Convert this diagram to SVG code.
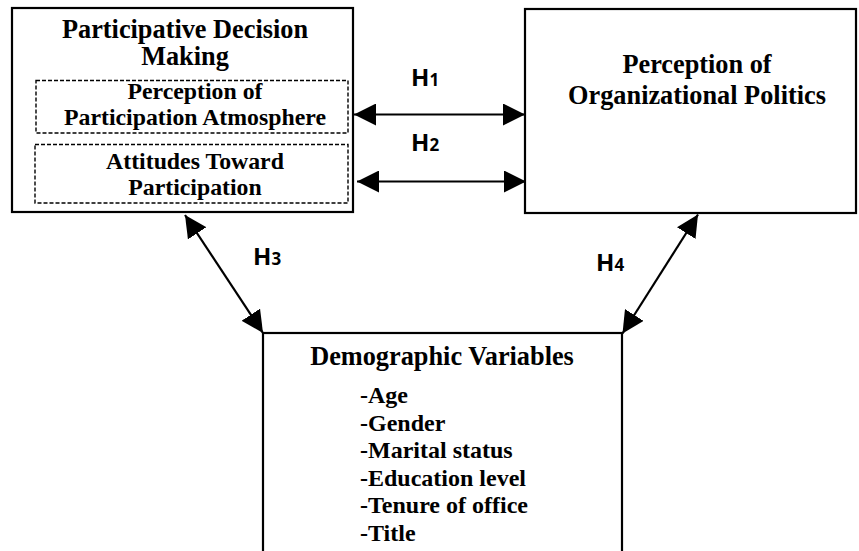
<svg xmlns="http://www.w3.org/2000/svg" width="859" height="551" viewBox="0 0 859 551">
<style>
.box{fill:#fff;stroke:#000;stroke-width:2.2}
.dash{fill:none;stroke:#000;stroke-width:1.4;stroke-dasharray:4 2}
.t{font-family:"Liberation Serif","Times New Roman",serif;font-weight:bold;fill:#000}
.tt{font-size:26.3px;text-anchor:middle}
.ts{font-size:23.8px;text-anchor:middle}
.tl{font-size:24px}
.h{font-family:"Open Sans","Liberation Sans",Arial,sans-serif;font-weight:bold;font-size:24px;fill:#000}
.h tspan{font-size:17px}
.con{stroke:#000;stroke-width:2.2;fill:none;marker-start:url(#ah);marker-end:url(#ah)}
</style>
<defs>
<marker id="ah" markerUnits="userSpaceOnUse" markerWidth="22" markerHeight="22" refX="20" refY="10" orient="auto-start-reverse" viewBox="0 0 20 20">
<path d="M0,0 L20,10 L0,20 z" fill="#000"/>
</marker>
</defs>
<rect width="859" height="551" fill="#fff"/>
<g id="pdm">
<rect class="box" x="12" y="8" width="341" height="204"/>
<text class="t tt" x="185" y="38">Participative Decision</text>
<text class="t tt" x="185" y="65">Making</text>
<g id="ppa">
<rect class="dash" x="36" y="80.5" width="312" height="52.5"/>
<text class="t ts" x="195" y="99">Perception of</text>
<text class="t ts" x="195" y="125">Participation Atmosphere</text>
</g>
<g id="atp">
<rect class="dash" x="35" y="144.5" width="313" height="58.5"/>
<text class="t ts" x="195" y="168.5">Attitudes Toward</text>
<text class="t ts" x="195" y="195">Participation</text>
</g>
</g>
<g id="pop">
<rect class="box" x="525" y="9" width="331" height="204"/>
<text class="t tt" x="697" y="73">Perception of</text>
<text class="t tt" x="697" y="104">Organizational Politics</text>
</g>
<g id="demo">
<rect class="box" x="263" y="333" width="359" height="240"/>
<text class="t tt" x="442" y="365">Demographic Variables</text>
<text class="t tl" x="360" y="403">-Age</text>
<text class="t tl" x="360" y="430.5">-Gender</text>
<text class="t tl" x="360" y="458">-Marital status</text>
<text class="t tl" x="360" y="485.5">-Education level</text>
<text class="t tl" x="360" y="513">-Tenure of office</text>
<text class="t tl" x="360" y="540.5">-Title</text>
</g>
<g id="connectors">
<line class="con" x1="354" y1="114.5" x2="525" y2="114.5"/>
<line class="con" x1="357" y1="181.5" x2="526" y2="181.5"/>
<line class="con" x1="185" y1="215" x2="263" y2="333"/>
<line class="con" x1="698" y1="214.5" x2="622.5" y2="333.5"/>
<text class="h" x="411" y="86">H<tspan>1</tspan></text>
<text class="h" x="411" y="151">H<tspan>2</tspan></text>
<text class="h" x="253" y="264.5">H<tspan>3</tspan></text>
<text class="h" x="596" y="271">H<tspan>4</tspan></text>
</g>
</svg>
